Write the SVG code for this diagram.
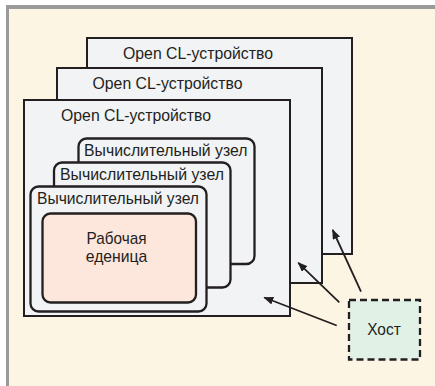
<svg xmlns="http://www.w3.org/2000/svg" width="435" height="386" viewBox="0 0 435 386">
<style>
.dev{fill:#f2f3f5;stroke:#231f20;stroke-width:2}
.node{fill:#f2f3f5;stroke:#231f20;stroke-width:2.3}
.work{fill:#fde6dc;stroke:#231f20;stroke-width:2.3}
.host{fill:#e1f1e6;stroke:#231f20;stroke-width:2.3;stroke-dasharray:7 4}
.t{font-family:"Liberation Sans Narrow","Liberation Sans",Arial,sans-serif;font-size:17px;fill:#231f20}
.c{text-anchor:middle}
.arr{stroke:#231f20;stroke-width:1.8;fill:none;marker-end:url(#ah)}
</style>
<defs>
<marker id="ah" viewBox="0 0 10 8" refX="9" refY="4" markerWidth="10" markerHeight="8" markerUnits="userSpaceOnUse" orient="auto">
<path d="M0,0 L10,4 L0,8 Z" fill="#231f20"/>
</marker>
</defs>
<rect x="0" y="0" width="435" height="386" fill="#ffffff"/>
<rect x="6" y="5" width="429" height="381" fill="#9a9a9a"/>
<rect x="9" y="9" width="426" height="377" fill="#fdf5e4"/>

<g id="device3">
<rect class="dev" x="87" y="38" width="265" height="216"/>
<text class="t" x="123" y="59" textLength="150" lengthAdjust="spacingAndGlyphs">Open CL-устройство</text>
</g>
<g id="device2">
<rect class="dev" x="57" y="68" width="265" height="215"/>
<text class="t" x="92.5" y="88.5" textLength="150" lengthAdjust="spacingAndGlyphs">Open CL-устройство</text>
</g>
<g id="device1">
<rect class="dev" x="24" y="100" width="266" height="216"/>
<text class="t" x="61" y="121" textLength="150" lengthAdjust="spacingAndGlyphs">Open CL-устройство</text>
</g>

<g id="node3">
<rect class="node" x="78.5" y="138.5" width="176" height="125.5" rx="8"/>
<text class="t" x="84" y="155.5" textLength="163.5" lengthAdjust="spacingAndGlyphs">Вычислительный узел</text>
</g>
<g id="node2">
<rect class="node" x="54" y="162.5" width="176.5" height="125" rx="8"/>
<text class="t" x="60" y="179.5" textLength="164" lengthAdjust="spacingAndGlyphs">Вычислительный узел</text>
</g>
<g id="node1">
<rect class="node" x="30.5" y="186.5" width="176" height="125" rx="8"/>
<text class="t" x="37" y="203.5" textLength="162" lengthAdjust="spacingAndGlyphs">Вычислительный узел</text>
</g>
<g id="work">
<rect class="work" x="42.5" y="213.5" width="153.5" height="89" rx="8"/>
<text class="t c" x="116.5" y="243.5" textLength="60" lengthAdjust="spacingAndGlyphs">Рабочая</text>
<text class="t c" x="116.5" y="261.5" textLength="61.5" lengthAdjust="spacingAndGlyphs">еденица</text>
</g>

<g id="host">
<rect class="host" x="349" y="300" width="71" height="59.5"/>
<text class="t c" x="384" y="335" textLength="33.5" lengthAdjust="spacingAndGlyphs">Хост</text>
</g>

<g id="connectors">
<line class="arr" x1="336.7" y1="325.5" x2="264.3" y2="297.5"/>
<line class="arr" x1="339.3" y1="302.3" x2="298.3" y2="262.8"/>
<line class="arr" x1="361" y1="291.7" x2="332.7" y2="230"/>
</g>
</svg>
